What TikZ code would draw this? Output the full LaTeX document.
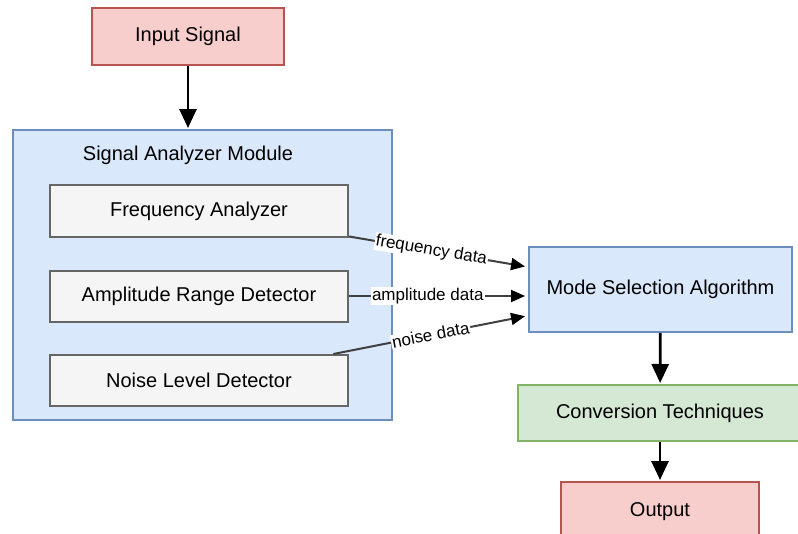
\documentclass[tikz,border=0pt]{standalone}
\usepackage{fontspec}
\setmainfont{Liberation Sans}
\usetikzlibrary{arrows.meta,calc}
\definecolor{redfill}{HTML}{F8CECC}
\definecolor{redline}{HTML}{B85450}
\definecolor{bluefill}{HTML}{DAE8FC}
\definecolor{blueline}{HTML}{6C8EBF}
\definecolor{greyfill}{HTML}{F5F5F5}
\definecolor{greyline}{HTML}{666666}
\definecolor{greenfill}{HTML}{D5E8D4}
\definecolor{greenline}{HTML}{82B366}
\tikzset{
  box/.style={draw, line width=2pt, inner sep=0pt, font=\fontsize{20}{23}\selectfont, text=black},
  redbox/.style={box, fill=redfill, draw=redline},
  bluebox/.style={box, fill=bluefill, draw=blueline},
  greybox/.style={box, fill=greyfill, draw=greyline},
  greenbox/.style={box, fill=greenfill, draw=greenline},
  flow/.style={line width=2.8pt, black, -{Triangle[length=19pt,width=17pt]}, shorten >=1pt},
  feed/.style={line width=2pt, black!75, -{Triangle[length=14pt,width=12pt,color=black]}, shorten >=3pt},
  flabel/.style={fill=white, inner sep=1pt, font=\fontsize{17}{19}\selectfont, text=black}
}
\begin{document}
\begin{tikzpicture}[x=1pt,y=-1pt]
\useasboundingbox (0,0) rectangle (798,533);

% analyzer container and its title
\node[bluebox, minimum width=379pt, minimum height=290pt] (analyzer) at (202.5,275) {};
\node[font=\fontsize{20}{23}\selectfont] (antitle) at (188,155) {Signal Analyzer Module};

% top and right-hand chain
\node[redbox, minimum width=192pt, minimum height=57pt] (input) at (188,36.5) {Input Signal};
\node[bluebox, minimum width=263pt, minimum height=85pt] (mode) at (660.5,289.5) {Mode Selection Algorithm};
\node[greenbox, minimum width=285pt, minimum height=56pt] (conv) at (660,413) {Conversion Techniques};
\node[redbox, minimum width=198pt, minimum height=60pt] (out) at (660,512) {Output};

% detectors inside the analyzer
\node[greybox, minimum width=298pt, minimum height=52pt] (freq) at (199,211) {Frequency Analyzer};
\node[greybox, minimum width=298pt, minimum height=51pt] (amp) at (199,296) {Amplitude Range Detector};
\node[greybox, minimum width=298pt, minimum height=51pt] (noise) at (199,380.5) {Noise Level Detector};

% main flow
\draw[flow] (input) -- (input |- analyzer.north);
\draw[flow] (mode) -- (conv);
\draw[flow] (conv) -- (out);

% data fed into the mode selection
\draw[feed] (freq) -- node[flabel, sloped, pos=0.46] {frequency data} (mode);
\draw[feed] (amp) -- node[flabel, pos=0.44] {amplitude data} (amp -| mode.west);
\draw[feed] (noise) -- node[flabel, sloped, pos=0.5] {noise data} (mode);
\end{tikzpicture}
\end{document}
